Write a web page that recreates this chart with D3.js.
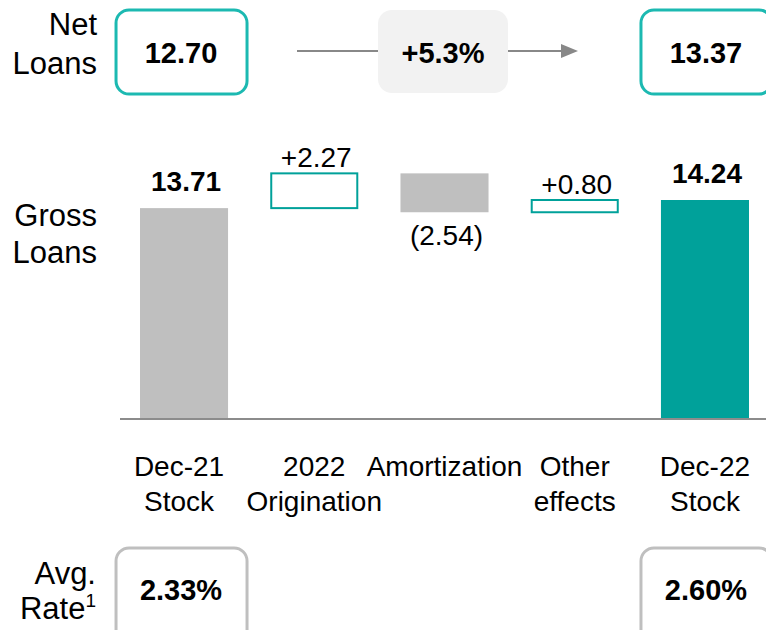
<!DOCTYPE html>
<html><head><meta charset="utf-8">
<script src="https://cdn.jsdelivr.net/npm/d3@7"></script>
<style>
html,body{margin:0;padding:0;background:#fff;}
svg{display:block;font-family:"Liberation Sans",Arial,sans-serif;}
</style></head>
<body>
<svg id="chart" width="766" height="630"></svg>
<script>
// ---- data ----
const categories = ["Dec-21|Stock", "2022|Origination", "Amortization", "Other|effects", "Dec-22|Stock"];
const values = [13.71, 2.27, -2.54, 0.80, 14.24];
const kinds = ["total", "increase", "decrease", "increase", "total"];
const valueLabels = ["13.71", "+2.27", "(2.54)", "+0.80", "14.24"];
const netLoans = ["12.70", "13.37"];
const netGrowth = "+5.3%";
const avgRates = ["2.33%", "2.60%"];
const rowLabels = {net: ["Net", "Loans"], gross: ["Gross", "Loans"], rate: ["Avg.", "Rate"]};

// ---- build waterfall ----
let run = 0;
const steps = values.map((v, i) => {
  let y0, y1;
  if (kinds[i] === "total") { y0 = 0; y1 = v; run = v; }
  else { y0 = run; y1 = run + v; run = y1; }
  return {cat: categories[i], kind: kinds[i], lo: Math.min(y0, y1), hi: Math.max(y0, y1), label: valueLabels[i]};
});

const svg = d3.select("#chart");
const x = d3.scaleBand().domain(categories).range([118, 771]).paddingInner(0.324).paddingOuter(0.169);
const y = d3.scaleLinear().domain([0, 14.24]).range([418, 200]);

const teal = "#00A19A", lightTeal = "#1CB9B1", grayBar = "#BFBFBF";

// row labels
function rowLabel(lines, y1, y2) {
  const t = svg.append("text").attr("text-anchor", "end").attr("font-size", 31).attr("fill", "#000");
  t.append("tspan").attr("x", 97).attr("y", y1).text(lines[0]);
  return t.append("tspan").attr("x", 97).attr("y", y2).text(lines[1]);
}
rowLabel(rowLabels.net, 35, 74);
rowLabel(rowLabels.gross, 226, 263);
const rt = svg.append("text").attr("text-anchor", "end").attr("font-size", 31).attr("fill", "#000");
rt.append("tspan").attr("x", 96).attr("y", 584).text(rowLabels.rate[0]);
const r2 = rt.append("tspan").attr("x", 96).attr("y", 619);
r2.append("tspan").text(rowLabels.rate[1]);
r2.append("tspan").attr("font-size", 19).attr("dy", -12).text("1");

// axis baseline
svg.append("line").attr("x1", 120).attr("x2", 766).attr("y1", y(0) + 1).attr("y2", y(0) + 1)
  .attr("stroke", "#8C8C8C").attr("stroke-width", 2);

// bars
const g = svg.append("g");
steps.forEach((s, i) => {
  const bx = x(s.cat), bw = x.bandwidth();
  if (s.kind === "increase") {
    g.append("rect").attr("x", bx + 1).attr("y", y(s.hi)).attr("width", bw - 2).attr("height", y(s.lo) - y(s.hi))
      .attr("fill", "#fff").attr("stroke", teal).attr("stroke-width", 2);
  } else {
    const fill = (s.kind === "total" && i === categories.length - 1) ? teal : grayBar;
    g.append("rect").attr("x", bx).attr("y", y(s.hi)).attr("width", bw).attr("height", y(s.lo) - y(s.hi)).attr("fill", fill);
  }
  const cx = bx + bw / 2;
  const t = g.append("text").attr("x", cx + 2).attr("text-anchor", "middle").attr("font-size", 28).attr("fill", "#000").text(s.label);
  if (s.kind === "total") t.attr("font-weight", "bold").attr("y", y(s.hi) - 17);
  else if (s.kind === "increase") t.attr("y", y(s.hi) - 6);
  else t.attr("y", y(s.lo) + 33);
  // category labels
  const parts = s.cat.split("|");
  const lx = i === 0 ? cx - 5 : cx;
  const ct = g.append("text").attr("text-anchor", "middle").attr("font-size", 28).attr("fill", "#000");
  parts.forEach((p, k) => ct.append("tspan").attr("x", lx).attr("y", 476 + k * 35).text(p));
});

// top boxes
const firstC = x(categories[0]) + x.bandwidth() / 2;
const lastC = x(categories[4]) + x.bandwidth() / 2;
function box(cx, yTop, h, stroke, text, ty) {
  svg.append("rect").attr("x", cx - 68).attr("y", yTop).attr("width", 131).attr("height", h)
    .attr("rx", 13).attr("fill", "#fff").attr("stroke", stroke).attr("stroke-width", 3);
  svg.append("text").attr("x", cx - 3).attr("y", ty).attr("text-anchor", "middle")
    .attr("font-size", 29).attr("font-weight", "bold").attr("fill", "#000").text(text);
}
box(firstC, 10, 84, lightTeal, netLoans[0], 63);
box(lastC + 4, 10, 84, lightTeal, netLoans[1], 63);

// growth arrow
svg.append("line").attr("x1", 297).attr("x2", 562).attr("y1", 51).attr("y2", 51).attr("stroke", "#888").attr("stroke-width", 2);
svg.append("path").attr("d", "M561,44 L578,51 L561,58 Z").attr("fill", "#888");
svg.append("rect").attr("x", 378).attr("y", 10).attr("width", 130).attr("height", 83).attr("rx", 14).attr("fill", "#F2F2F2");
svg.append("text").attr("x", 443).attr("y", 63).attr("text-anchor", "middle").attr("font-size", 29)
  .attr("font-weight", "bold").attr("fill", "#000").text(netGrowth);

// avg rate boxes
box(firstC, 548, 100, "#BFBFBF", avgRates[0], 600);
box(lastC + 4, 548, 100, "#BFBFBF", avgRates[1], 600);
</script>
</body></html>
